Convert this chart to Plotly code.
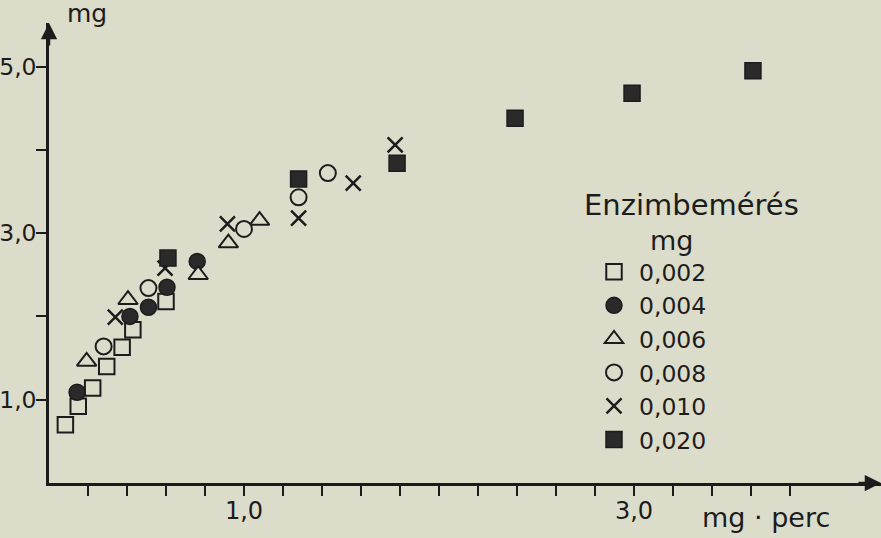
import plotly.graph_objects as go

# ---- data ----
series_names = ["0,002", "0,004", "0,006", "0,008", "0,010", "0,020"]

x_002 = [0.084, 0.15, 0.224, 0.296, 0.375, 0.43, 0.60]
y_002 = [0.70, 0.92, 1.14, 1.40, 1.63, 1.84, 2.18]

x_004 = [0.144, 0.415, 0.51, 0.605, 0.76]
y_004 = [1.09, 2.00, 2.11, 2.35, 2.66]

x_006 = [0.193, 0.405, 0.765, 0.92, 1.08]
y_006 = [1.46, 2.20, 2.50, 2.88, 3.15]

x_008 = [0.28, 0.51, 1.00, 1.28, 1.43]
y_008 = [1.64, 2.34, 3.05, 3.43, 3.72]

x_010 = [0.34, 0.595, 0.915, 1.28, 1.56, 1.775]
y_010 = [1.99, 2.58, 3.11, 3.18, 3.60, 4.06]

x_020 = [0.61, 1.28, 1.785, 2.39, 2.99, 3.61]
y_020 = [2.70, 3.65, 3.84, 4.38, 4.68, 4.95]

x_tickvals = [round(0.2 * i, 1) for i in range(1, 20)]
x_ticktext = ["1,0" if abs(v - 1.0) < 1e-9 else ("3,0" if abs(v - 3.0) < 1e-9 else "") for v in x_tickvals]
y_tickvals = [1, 2, 3, 4, 5]
y_ticktext = ["1,0", "", "3,0", "", "5,0"]

# ---- style ----
BG = "#dcdccb"
INK = "#1c1c1c"
FILL = "#2a2a2a"
FONT = "DejaVu Sans"

fig = go.Figure()

def add(xs, ys, name, symbol, size, filled, lw=2):
    fig.add_trace(go.Scatter(
        x=xs, y=ys, mode="markers", name=name,
        marker=dict(symbol=symbol, size=size,
                    color=FILL if filled else BG,
                    line=dict(color=INK, width=lw)),
    ))

add(x_002, y_002, series_names[0], "square", 15.5, False)
add(x_004, y_004, series_names[1], "circle", 16, True, 1.5)
add(x_006, y_006, series_names[2], "triangle-up", 17, False)
add(x_008, y_008, series_names[3], "circle", 16, False)
add(x_010, y_010, series_names[4], "x-thin", 15, False, 2.5)
add(x_020, y_020, series_names[5], "square", 16, True, 1.5)

fig.update_layout(
    width=881, height=538,
    margin=dict(l=0, r=0, t=0, b=0, autoexpand=False),
    paper_bgcolor=BG, plot_bgcolor=BG,
    font=dict(family=FONT, color=INK),
    xaxis=dict(domain=[49 / 881, 1], range=[0, 832 / 195], showgrid=False, zeroline=False,
               showline=True, linewidth=2.5, linecolor=INK,
               ticks="outside", ticklen=10, tickwidth=2, tickcolor=INK,
               tickvals=x_tickvals, ticktext=x_ticktext, automargin=False,
               ticklabelstandoff=-6,
               tickfont=dict(size=24, family=FONT, color=INK), anchor="y"),
    yaxis=dict(domain=[55 / 538, 515 / 538], range=[0, 460 / 83.3], showgrid=False, zeroline=False,
               showline=True, linewidth=2.5, linecolor=INK,
               ticks="outside", ticklen=10, tickwidth=2, tickcolor=INK,
               tickvals=y_tickvals, ticktext=y_ticktext, automargin=False,
               ticklabelstandoff=-5,
               tickfont=dict(size=23.5, family=FONT, color=INK), anchor="x"),
    showlegend=True,
    legend=dict(x=589 / 881, y=1 - 250 / 538, xanchor="left", yanchor="top",
                bgcolor="rgba(0,0,0,0)", font=dict(size=23.5, family=FONT, color=INK),
                tracegroupgap=0, itemwidth=40),
)

# axis arrows
fig.add_annotation(xref="x domain", yref="y", x=1, y=0, ax=-24, ay=0, text="",
                   showarrow=True, arrowhead=2, arrowsize=1.3, arrowwidth=2.5, arrowcolor=INK)
fig.add_annotation(xref="x", yref="y domain", x=0, y=1, ax=0, ay=24, text="",
                   showarrow=True, arrowhead=2, arrowsize=1.3, arrowwidth=2.5, arrowcolor=INK)

def label(px, py, text, size):
    fig.add_annotation(xref="paper", yref="paper", x=px / 881, y=1 - py / 538, text=text,
                       xanchor="center", yanchor="middle",
                       showarrow=False, font=dict(size=size, family=FONT, color=INK))

# axis titles
label(87, 14, "mg", 25)
label(766, 517, "mg · perc", 27)
# legend title
label(691, 205, "Enzimbemérés", 29)
label(671, 240, "mg", 27)

fig.write_html("out.html", config={"displayModeBar": False},
               post_script="document.body.style.margin='0px';")
